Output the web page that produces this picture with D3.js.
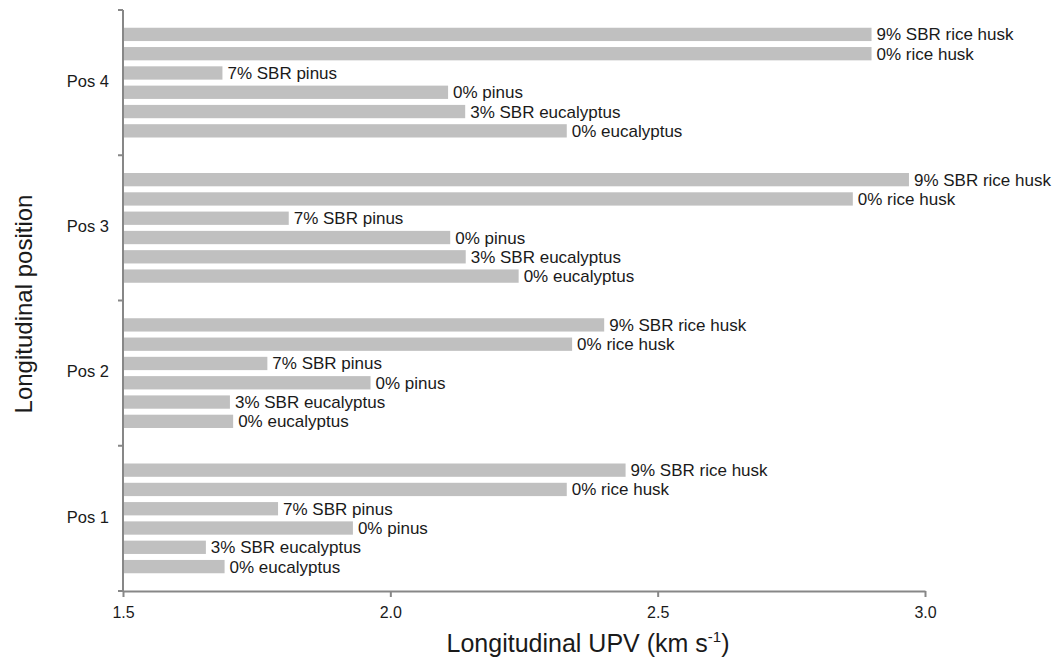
<!DOCTYPE html>
<html>
<head>
<meta charset="utf-8">
<script src="https://cdn.jsdelivr.net/npm/d3@7"></script>
<style>
  html, body { margin: 0; padding: 0; background: #fff; }
  svg { display: block; font-family: "Liberation Sans", Arial, sans-serif; }
</style>
</head>
<body>
<svg id="chart" width="1058" height="663"></svg>
<script>
// Longitudinal positions (bottom to top)
const positions = ["Pos 1", "Pos 2", "Pos 3", "Pos 4"];
// Mixtures, listed top to bottom inside each position group
const mixtures = ["9% SBR rice husk", "0% rice husk", "7% SBR pinus", "0% pinus", "3% SBR eucalyptus", "0% eucalyptus"];
// Longitudinal UPV (km/s) per position, in mixture order
const upvPos1 = [2.44, 2.33, 1.79, 1.93, 1.655, 1.69];
const upvPos2 = [2.40, 2.34, 1.77, 1.963, 1.70, 1.706];
const upvPos3 = [2.97, 2.865, 1.81, 2.112, 2.141, 2.24];
const upvPos4 = [2.90, 2.90, 1.686, 2.108, 2.14, 2.33];
const upvByPosition = [upvPos1, upvPos2, upvPos3, upvPos4];
const xTicks = [1.5, 2.0, 2.5, 3.0];

const svg = d3.select("#chart");
const plotLeft = 123, plotRight = 925, plotTop = 10, plotBottom = 591;
const axisColor = "#878787";
const textColor = "#1a1a1a";

const x = d3.scaleLinear().domain([1.5, 3.0]).range([plotLeft, plotRight]);
const y = d3.scaleBand().domain(positions).range([plotBottom, plotTop]).padding(0);
const inner = d3.scaleBand().domain(mixtures).range([0, y.bandwidth()])
  .paddingInner(0.31).paddingOuter(0.92);

const rows = [];
positions.forEach((p, i) => {
  mixtures.forEach((m, j) => rows.push({ pos: p, mix: m, v: upvByPosition[i][j] }));
});

// bars
svg.append("g").selectAll("rect").data(rows).join("rect")
  .attr("x", x(1.5))
  .attr("y", d => y(d.pos) + inner(d.mix))
  .attr("width", d => x(d.v) - x(1.5))
  .attr("height", inner.bandwidth())
  .attr("fill", "#c0c0c0");

// bar labels
svg.append("g").selectAll("text").data(rows).join("text")
  .attr("x", d => x(d.v) + 5)
  .attr("y", d => y(d.pos) + inner(d.mix) + inner.bandwidth() / 2 + 1.5)
  .attr("dominant-baseline", "middle")
  .attr("font-size", 17)
  .attr("fill", textColor)
  .text(d => d.mix);

// x axis
const xAxis = svg.append("g").attr("transform", `translate(0,${plotBottom})`)
  .call(d3.axisBottom(x).tickValues(xTicks).tickFormat(d3.format(".1f")).tickSizeInner(6).tickSizeOuter(0).tickPadding(10));
xAxis.select(".domain").attr("stroke", axisColor).attr("stroke-width", 2);
xAxis.selectAll(".tick line").attr("stroke", axisColor).attr("stroke-width", 2);
xAxis.selectAll(".tick text").attr("font-size", 16).attr("fill", textColor)
  .attr("font-family", "Liberation Sans, Arial, sans-serif");

// y axis: ticks at group boundaries
const boundaries = d3.range(positions.length + 1).map(i => plotBottom - i * y.step());
const yAxis = svg.append("g");
yAxis.append("line")
  .attr("x1", plotLeft).attr("x2", plotLeft).attr("y1", plotTop).attr("y2", plotBottom)
  .attr("stroke", axisColor).attr("stroke-width", 2);
yAxis.selectAll("line.tk").data(boundaries).join("line").attr("class", "tk")
  .attr("x1", plotLeft - 5).attr("x2", plotLeft).attr("y1", d => d).attr("y2", d => d)
  .attr("stroke", axisColor).attr("stroke-width", 2);
yAxis.selectAll("text").data(positions).join("text")
  .attr("x", plotLeft - 14)
  .attr("y", d => y(d) + y.bandwidth() / 2)
  .attr("text-anchor", "end")
  .attr("dominant-baseline", "middle")
  .attr("font-size", 16.5)
  .attr("fill", textColor)
  .text(d => d);

// axis titles
const xt = svg.append("text")
  .attr("x", 588)
  .attr("y", 652)
  .attr("text-anchor", "middle")
  .attr("font-size", 25)
  .attr("fill", textColor);
xt.append("tspan").text("Longitudinal UPV (km s");
xt.append("tspan").attr("font-size", 15).attr("dy", -10).text("-1");
xt.append("tspan").attr("dy", 10).text(")");

svg.append("text")
  .attr("transform", "translate(26,304) rotate(-90)")
  .attr("text-anchor", "middle")
  .attr("dominant-baseline", "middle")
  .attr("font-size", 24)
  .attr("fill", textColor)
  .text("Longitudinal position");
</script>
</body>
</html>
